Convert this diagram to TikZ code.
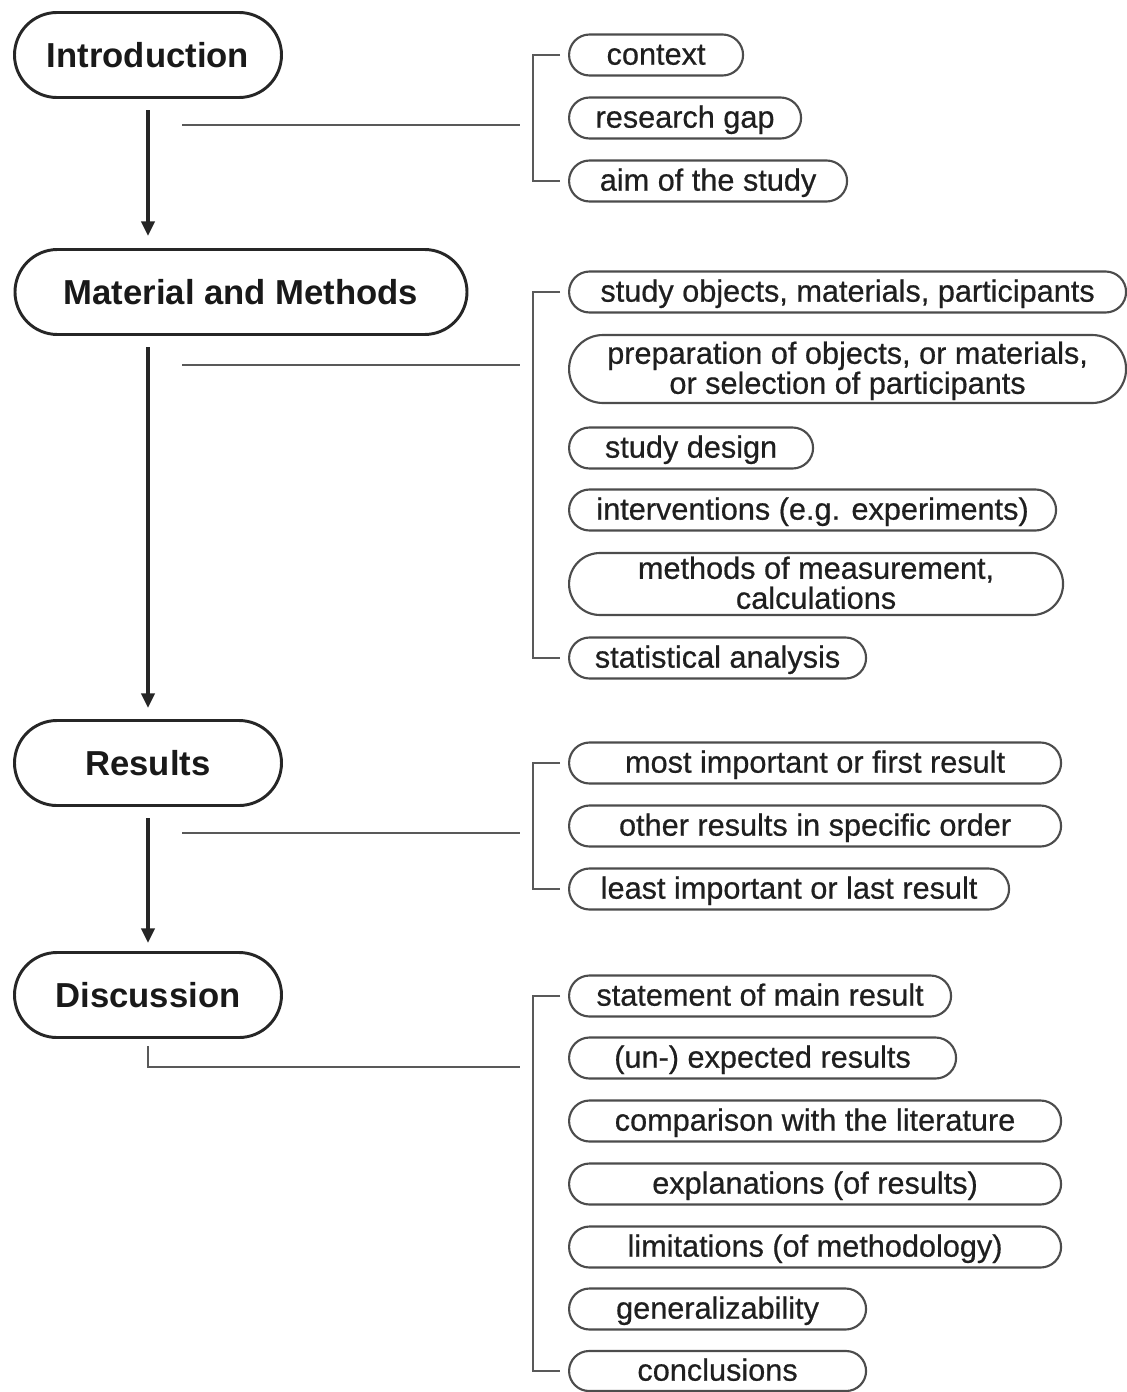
\documentclass[tikz,border=0pt]{standalone}
\usepackage{fontspec}
\setmainfont{Liberation Sans}
\newfontfamily\semib[FakeBold=0.6]{Liberation Sans}
\usetikzlibrary{shapes.misc,arrows.meta}
\tikzset{
  mainbox/.style={rounded rectangle, draw=black!85, line width=2.2pt, minimum height={85*0.75pt},
    inner xsep=0pt, inner ysep=0pt, text height=20.5pt, text depth=1.5pt,
    font=\fontsize{26}{30}\selectfont\bfseries, text=black!90},
  rbox/.style={rounded rectangle, draw=black!70, line width=1.6pt, inner xsep=0pt, inner ysep=0pt,
    font=\semib\fontsize{23}{22.5}\selectfont, text=black!88, align=center, anchor=west},
  one/.style={text height=18pt, text depth=3.5pt},
  two/.style={text depth=2pt},
  flow/.style={line width=2.4pt, black!85, -{Triangle[length=11pt,width=10pt]}},
  link/.style={line width=1.4pt, black!65},
}
\newcommand\rb[6][one]{\node[rbox, #1, minimum width={#4*0.75pt}, minimum height={#5*0.75pt}] (#2) at (568,#3) {#6};}
\begin{document}
\begin{tikzpicture}[x=0.75pt,y=-0.75pt]
\useasboundingbox (0,0) rectangle (1127,1392);
% main nodes
\node[mainbox, minimum width={267*0.75pt}] (intro) at (148,55) {Introduction};
\node[mainbox, minimum width={452*0.75pt}] (mm) at (241,292) {Material and Methods};
\node[mainbox, minimum width={267*0.75pt}] (res) at (148,763) {Results};
\node[mainbox, minimum width={267*0.75pt}] (disc) at (148,995) {Discussion};
% arrows
\coordinate (a1s) at (148,110); \coordinate (a1e) at (148,236);
\coordinate (a2s) at (148,347); \coordinate (a2e) at (148,708);
\coordinate (a3s) at (148,818); \coordinate (a3e) at (148,943);
\draw[flow] (a1s) -- (a1e);
\draw[flow] (a2s) -- (a2e);
\draw[flow] (a3s) -- (a3e);
% right boxes
\rb{ctx}{55}{174}{41}{context}
\rb{gap}{118}{232}{41}{research gap}
\rb{aim}{181}{278}{41}{aim of the study}
\rb{obj}{292}{557}{41}{study objects, materials, participants}
\rb[two]{prep}{369}{557}{68}{preparation of objects, or materials,\\or selection of participants}
\rb{des}{448}{244}{41}{study design}
\rb{int}{510}{487}{41}{interventions (e.g. experiments)}
\rb[two]{meas}{584}{494}{62}{methods of measurement,\\calculations}
\rb{stat}{658}{297}{41}{statistical analysis}
\rb{most}{763}{492}{41}{most important or first result}
\rb{other}{826}{492}{41}{other results in specific order}
\rb{least}{889}{440}{41}{least important or last result}
\rb{stmt}{996}{382}{41}{statement of main result}
\rb{unexp}{1058}{387}{41}{(un-) expected results}
\rb{comp}{1121}{492}{41}{comparison with the literature}
\rb{expl}{1184}{492}{41}{explanations (of results)}
\rb{lim}{1247}{492}{41}{limitations (of methodology)}
\rb{gen}{1309}{297}{41}{generalizability}
\rb{concl}{1371}{297}{40}{conclusions}
% brackets
\draw[link] ([xshift=-6pt]ctx.west) -- ++(-27,0) |- ([xshift=-6pt]aim.west);
\draw[link] ([xshift=-6pt]obj.west) -- ++(-27,0) |- ([xshift=-6pt]stat.west);
\draw[link] ([xshift=-6pt]most.west) -- ++(-27,0) |- ([xshift=-6pt]least.west);
\draw[link] ([xshift=-6pt]stmt.west) -- ++(-27,0) |- ([xshift=-6pt]concl.west);
% side connectors
\coordinate (l1s) at (182,125); \coordinate (l1e) at (520,125);
\coordinate (l2s) at (182,365); \coordinate (l2e) at (520,365);
\coordinate (l3s) at (182,833); \coordinate (l3e) at (520,833);
\coordinate (l4s) at (148,1046); \coordinate (l4e) at (520,1067);
\draw[link] (l1s) -- (l1e);
\draw[link] (l2s) -- (l2e);
\draw[link] (l3s) -- (l3e);
\draw[link] (l4s) |- (l4e);
\end{tikzpicture}
\end{document}
